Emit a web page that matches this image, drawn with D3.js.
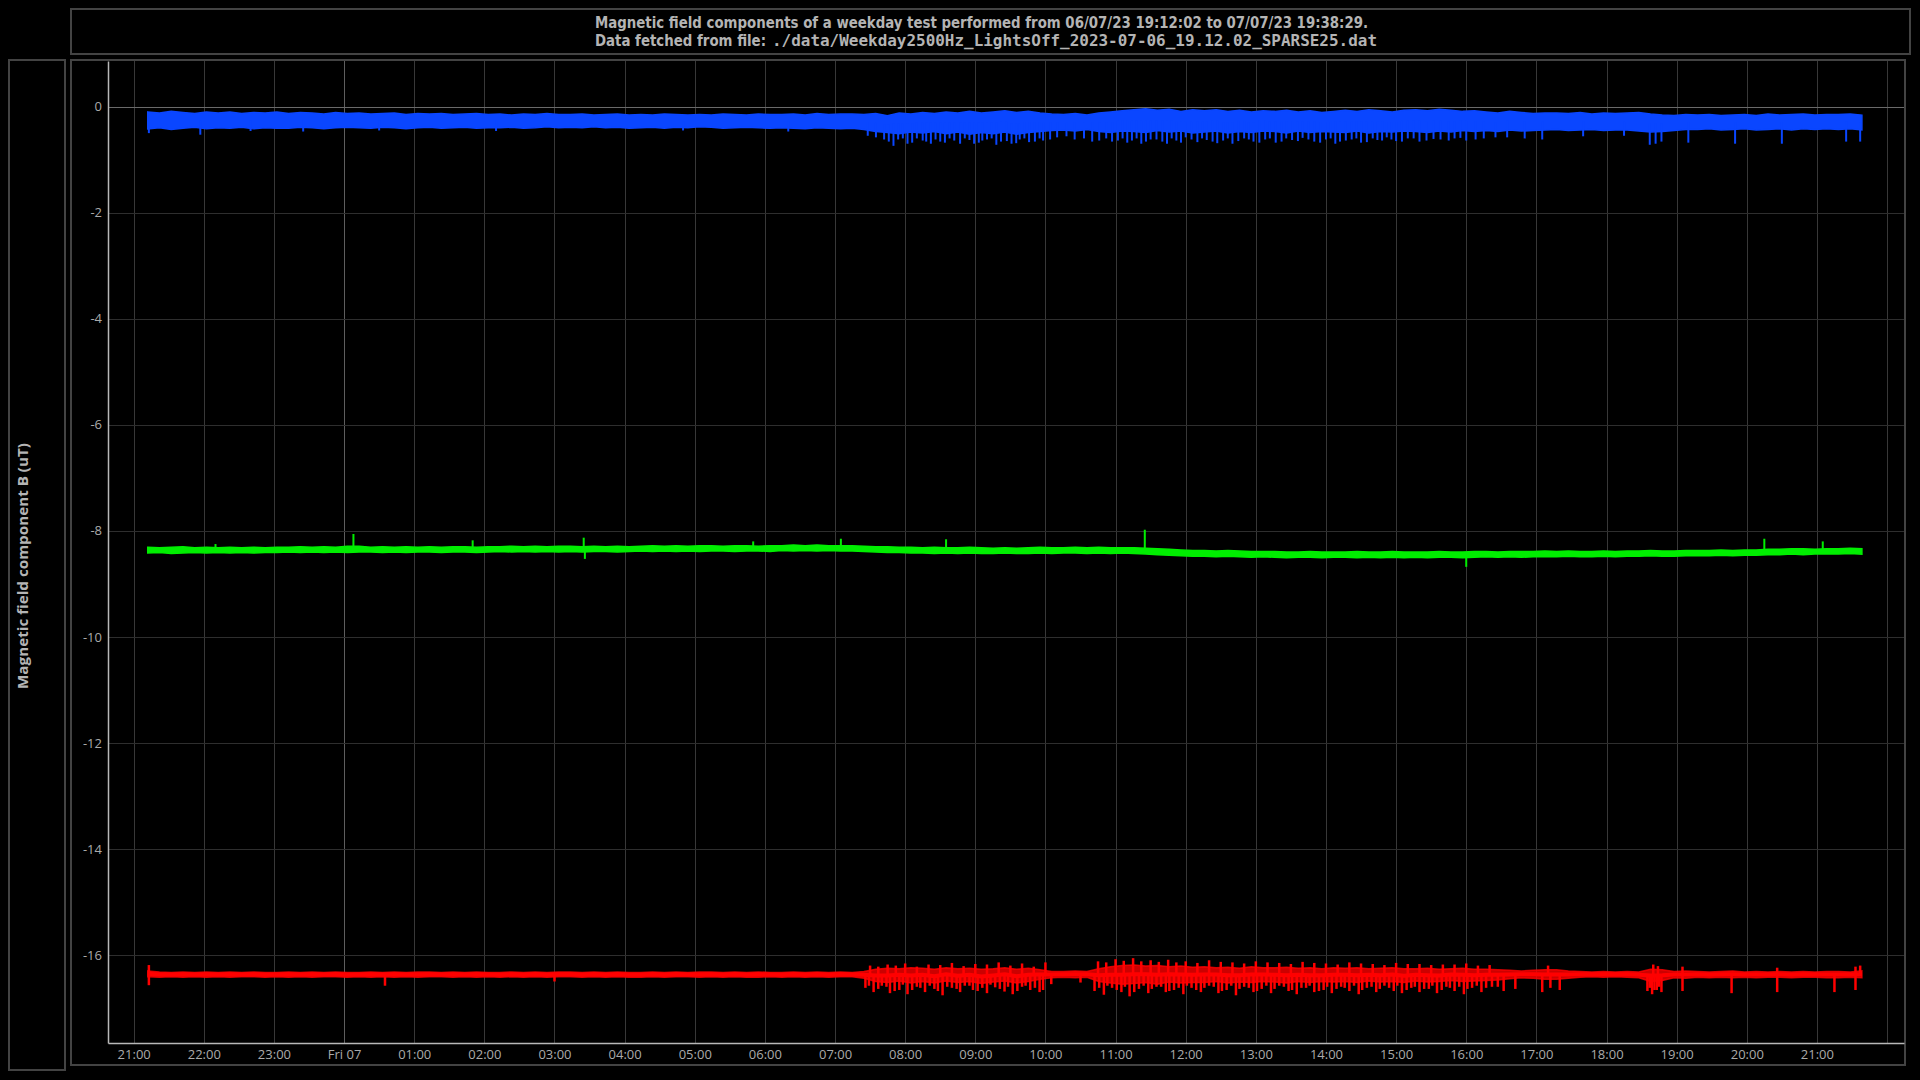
<!DOCTYPE html>
<html><head><meta charset="utf-8">
<script src="https://cdn.jsdelivr.net/npm/d3@7"></script>
<style>html,body{margin:0;padding:0;background:#000;overflow:hidden}</style>
</head><body>
<svg id="c" width="1920" height="1080"></svg>
<script>
// ---------------- DATA ----------------
const titleLine1 = "Magnetic field components of a weekday test performed from 06/07/23 19:12:02 to 07/07/23 19:38:29.";
const titleLine2a = "Data fetched from file:";
const titleLine2b = "./data/Weekday2500Hz_LightsOff_2023-07-06_19.12.02_SPARSE25.dat";
const yLabel = "Magnetic field component B (uT)";
const yTicks = [0, -2, -4, -6, -8, -10, -12, -14, -16];
const xDomain = ["2023-07-06T20:38:02Z", "2023-07-07T22:14:30Z"];
const yDomain = [-17.66, 0.86];
// sampling grid (displayed local time): first and last sample
const sampleStart = "2023-07-06T21:12:02Z";
const sampleEnd = "2023-07-07T21:38:29Z";

// envelope of each component, one value per ~10 min
const blueHi = [
-0.10,-0.12,-0.09,-0.11,-0.13,-0.10, -0.12,-0.10,-0.13,-0.11,-0.12,-0.10,
-0.13,-0.11,-0.12,-0.14,-0.11,-0.13, -0.12,-0.14,-0.13,-0.12,-0.15,-0.13,
-0.14,-0.13,-0.15,-0.14,-0.13,-0.15, -0.14,-0.16,-0.14,-0.15,-0.13,-0.15,
-0.15,-0.14,-0.16,-0.15,-0.14,-0.16, -0.15,-0.16,-0.14,-0.15,-0.16,-0.15,
-0.16,-0.14,-0.15,-0.16,-0.14,-0.15, -0.15,-0.14,-0.16,-0.13,-0.15,-0.14,
-0.14,-0.15,-0.13,-0.17,-0.12,-0.14, -0.11,-0.13,-0.10,-0.12,-0.09,-0.12,
-0.10,-0.08,-0.11,-0.09,-0.12,-0.14, -0.15,-0.13,-0.16,-0.12,-0.10,-0.08,
-0.06,-0.04,-0.07,-0.05,-0.09,-0.06, -0.08,-0.06,-0.09,-0.07,-0.10,-0.08,
-0.09,-0.07,-0.10,-0.08,-0.11,-0.09, -0.07,-0.09,-0.06,-0.08,-0.10,-0.07,
-0.06,-0.08,-0.05,-0.07,-0.09,-0.08, -0.10,-0.12,-0.09,-0.11,-0.13,-0.12,
-0.12,-0.13,-0.11,-0.14,-0.12,-0.13, -0.12,-0.11,-0.14,-0.16,-0.17,-0.15,
-0.16,-0.15,-0.17,-0.16,-0.15,-0.17, -0.14,-0.16,-0.15,-0.14,-0.16,-0.15,
-0.15,-0.14,-0.16];
const blueLo = [
-0.42,-0.40,-0.43,-0.41,-0.39,-0.42, -0.40,-0.41,-0.39,-0.42,-0.40,-0.41,
-0.41,-0.39,-0.40,-0.42,-0.40,-0.39, -0.40,-0.41,-0.39,-0.40,-0.42,-0.40,
-0.39,-0.41,-0.40,-0.39,-0.41,-0.40, -0.40,-0.39,-0.41,-0.40,-0.38,-0.40,
-0.39,-0.40,-0.38,-0.40,-0.39,-0.41, -0.40,-0.39,-0.41,-0.39,-0.40,-0.38,
-0.39,-0.41,-0.40,-0.39,-0.40,-0.41, -0.40,-0.41,-0.42,-0.40,-0.41,-0.42,
-0.41,-0.43,-0.47,-0.49,-0.51,-0.48, -0.50,-0.47,-0.51,-0.48,-0.52,-0.49,
-0.51,-0.48,-0.52,-0.49,-0.47,-0.45, -0.44,-0.46,-0.43,-0.47,-0.49,-0.46,
-0.47,-0.49,-0.45,-0.48,-0.46,-0.50, -0.48,-0.46,-0.50,-0.47,-0.49,-0.46,
-0.47,-0.50,-0.46,-0.49,-0.47,-0.48, -0.49,-0.46,-0.50,-0.47,-0.48,-0.46,
-0.47,-0.49,-0.46,-0.48,-0.45,-0.47, -0.45,-0.47,-0.44,-0.46,-0.45,-0.44,
-0.43,-0.45,-0.44,-0.43,-0.45,-0.44, -0.44,-0.46,-0.48,-0.47,-0.45,-0.43,
-0.43,-0.42,-0.44,-0.43,-0.42,-0.44, -0.43,-0.42,-0.44,-0.42,-0.43,-0.42,
-0.43,-0.42,-0.44];
const greenHi = [
-8.31,-8.32,-8.31,-8.30,-8.32,-8.31, -8.32,-8.31,-8.32,-8.31,-8.32,-8.31,
-8.31,-8.30,-8.31,-8.30,-8.31,-8.29, -8.29,-8.31,-8.30,-8.31,-8.30,-8.31,
-8.30,-8.31,-8.30,-8.30,-8.31,-8.30, -8.30,-8.29,-8.30,-8.29,-8.30,-8.29,
-8.29,-8.30,-8.29,-8.30,-8.29,-8.30, -8.29,-8.28,-8.29,-8.28,-8.29,-8.28,
-8.28,-8.29,-8.28,-8.28,-8.29,-8.28, -8.28,-8.27,-8.28,-8.27,-8.28,-8.28,
-8.28,-8.29,-8.30,-8.30,-8.31,-8.31, -8.32,-8.31,-8.32,-8.32,-8.31,-8.32,
-8.33,-8.32,-8.33,-8.32,-8.31,-8.32, -8.32,-8.31,-8.32,-8.31,-8.32,-8.32,
-8.32,-8.33,-8.34,-8.35,-8.36,-8.37, -8.37,-8.38,-8.37,-8.38,-8.39,-8.39,
-8.39,-8.40,-8.40,-8.39,-8.40,-8.40, -8.40,-8.39,-8.40,-8.40,-8.39,-8.40,
-8.40,-8.40,-8.39,-8.40,-8.40,-8.39, -8.39,-8.40,-8.39,-8.39,-8.39,-8.38,
-8.39,-8.38,-8.39,-8.39,-8.38,-8.39, -8.38,-8.38,-8.37,-8.38,-8.38,-8.37,
-8.37,-8.37,-8.36,-8.37,-8.36,-8.36, -8.35,-8.35,-8.34,-8.34,-8.35,-8.34,
-8.34,-8.33,-8.34];
const greenLo = [
-8.42,-8.41,-8.43,-8.42,-8.41,-8.42, -8.41,-8.42,-8.41,-8.42,-8.41,-8.41,
-8.40,-8.41,-8.40,-8.41,-8.40,-8.41, -8.40,-8.40,-8.41,-8.40,-8.41,-8.40,
-8.40,-8.41,-8.40,-8.40,-8.41,-8.40, -8.39,-8.40,-8.39,-8.40,-8.39,-8.40,
-8.39,-8.40,-8.39,-8.39,-8.40,-8.39, -8.38,-8.39,-8.38,-8.39,-8.38,-8.39,
-8.38,-8.38,-8.39,-8.38,-8.38,-8.39, -8.37,-8.38,-8.37,-8.38,-8.37,-8.38,
-8.38,-8.39,-8.40,-8.41,-8.41,-8.42, -8.42,-8.43,-8.42,-8.43,-8.42,-8.43,
-8.43,-8.42,-8.43,-8.43,-8.42,-8.43, -8.42,-8.42,-8.43,-8.42,-8.43,-8.42,
-8.43,-8.44,-8.45,-8.46,-8.47,-8.48, -8.48,-8.49,-8.48,-8.49,-8.50,-8.49,
-8.50,-8.51,-8.50,-8.50,-8.51,-8.50, -8.50,-8.51,-8.50,-8.51,-8.50,-8.51,
-8.50,-8.51,-8.50,-8.50,-8.51,-8.50, -8.49,-8.50,-8.49,-8.50,-8.49,-8.49,
-8.49,-8.48,-8.49,-8.49,-8.48,-8.49, -8.48,-8.48,-8.47,-8.48,-8.48,-8.47,
-8.47,-8.47,-8.46,-8.47,-8.46,-8.46, -8.45,-8.45,-8.44,-8.45,-8.44,-8.44,
-8.44,-8.43,-8.44];
const redHi = [
-16.30,-16.32,-16.33,-16.32,-16.33,-16.32, -16.33,-16.32,-16.33,-16.32,-16.33,-16.33,
-16.32,-16.33,-16.32,-16.33,-16.32,-16.33, -16.33,-16.32,-16.33,-16.32,-16.33,-16.32,
-16.32,-16.33,-16.32,-16.33,-16.32,-16.33, -16.33,-16.32,-16.33,-16.32,-16.33,-16.32,
-16.32,-16.33,-16.32,-16.33,-16.32,-16.33, -16.33,-16.32,-16.33,-16.32,-16.33,-16.32,
-16.32,-16.33,-16.32,-16.33,-16.32,-16.33, -16.33,-16.32,-16.33,-16.32,-16.33,-16.32,
-16.33,-16.31,-16.27,-16.25,-16.26,-16.24, -16.25,-16.27,-16.24,-16.26,-16.25,-16.27,
-16.26,-16.24,-16.27,-16.25,-16.28,-16.31, -16.31,-16.30,-16.31,-16.26,-16.22,-16.20,
-16.19,-16.21,-16.20,-16.22,-16.21,-16.23, -16.22,-16.24,-16.23,-16.25,-16.22,-16.24,
-16.24,-16.23,-16.25,-16.24,-16.26,-16.24, -16.25,-16.24,-16.26,-16.25,-16.24,-16.26,
-16.26,-16.25,-16.27,-16.26,-16.25,-16.27, -16.27,-16.28,-16.29,-16.30,-16.29,-16.28,
-16.28,-16.30,-16.31,-16.32,-16.31,-16.32, -16.31,-16.32,-16.27,-16.28,-16.31,-16.30,
-16.31,-16.32,-16.31,-16.30,-16.32,-16.31, -16.32,-16.31,-16.32,-16.31,-16.32,-16.31,
-16.31,-16.32,-16.30];
const redLo = [
-16.41,-16.42,-16.41,-16.42,-16.41,-16.42, -16.41,-16.42,-16.41,-16.41,-16.42,-16.41,
-16.42,-16.41,-16.42,-16.41,-16.41,-16.42, -16.41,-16.42,-16.41,-16.42,-16.41,-16.42,
-16.41,-16.41,-16.42,-16.41,-16.42,-16.41, -16.42,-16.41,-16.42,-16.41,-16.42,-16.41,
-16.41,-16.42,-16.41,-16.42,-16.41,-16.42, -16.42,-16.41,-16.42,-16.41,-16.41,-16.42,
-16.41,-16.42,-16.41,-16.42,-16.42,-16.41, -16.42,-16.41,-16.42,-16.41,-16.42,-16.41,
-16.41,-16.44,-16.50,-16.52,-16.49,-16.53, -16.50,-16.53,-16.49,-16.52,-16.50,-16.54,
-16.51,-16.49,-16.53,-16.50,-16.46,-16.43, -16.42,-16.43,-16.42,-16.50,-16.53,-16.55,
-16.54,-16.52,-16.55,-16.51,-16.53,-16.52, -16.52,-16.50,-16.53,-16.51,-16.52,-16.50,
-16.51,-16.53,-16.50,-16.52,-16.50,-16.51, -16.50,-16.52,-16.49,-16.51,-16.50,-16.52,
-16.49,-16.51,-16.50,-16.48,-16.50,-16.49, -16.48,-16.47,-16.45,-16.43,-16.44,-16.46,
-16.46,-16.44,-16.42,-16.41,-16.42,-16.41, -16.42,-16.43,-16.50,-16.48,-16.43,-16.44,
-16.42,-16.43,-16.42,-16.43,-16.42,-16.43, -16.42,-16.42,-16.43,-16.42,-16.42,-16.43,
-16.43,-16.42,-16.43];

// isolated excursions ("DD HH:MM", value)
const blueSpikeTimes = ["06 21:13","06 21:57","06 22:40","06 23:25","07 00:30","07 02:10","07 04:50","07 06:20",
"07 07:28","07 07:42","07 07:50","07 07:58","07 08:06","07 08:15","07 08:22","07 08:30","07 08:38","07 08:47","07 08:55",
"07 09:03","07 09:10","07 09:18","07 09:27","07 09:35","07 09:42","07 09:51","07 09:58","07 10:10","07 10:25","07 10:40",
"07 10:52","07 11:02","07 11:10","07 11:18","07 11:26","07 11:35","07 11:44","07 11:52","07 12:00","07 12:10","07 12:18",
"07 12:27","07 12:36","07 12:45","07 12:54","07 13:03","07 13:12","07 13:22","07 13:31","07 13:40","07 13:50","07 14:00",
"07 14:08","07 14:17","07 14:26","07 14:35","07 14:44","07 14:52","07 15:00","07 15:10","07 15:20","07 15:32","07 15:45",
"07 15:55","07 16:08","07 16:25","07 16:50","07 17:05","07 17:40","07 18:15","07 18:37","07 18:42","07 18:47","07 19:10",
"07 19:50","07 20:30","07 21:25","07 21:37"];
const blueSpikeValues = [-0.50,-0.53,-0.46,-0.47,-0.45,-0.46,-0.45,-0.47,
-0.55,-0.62,-0.74,-0.60,-0.68,-0.64,-0.70,-0.66,-0.60,-0.70,-0.63,
-0.68,-0.62,-0.72,-0.65,-0.69,-0.60,-0.66,-0.64,-0.58,-0.62,-0.66,
-0.60,-0.64,-0.68,-0.60,-0.66,-0.62,-0.70,-0.64,-0.58,-0.67,-0.63,
-0.69,-0.60,-0.65,-0.62,-0.68,-0.60,-0.66,-0.63,-0.59,-0.66,-0.62,
-0.70,-0.64,-0.60,-0.67,-0.63,-0.58,-0.65,-0.60,-0.66,-0.61,-0.64,
-0.59,-0.62,-0.58,-0.60,-0.62,-0.56,-0.55,-0.72,-0.70,-0.66,-0.68,
-0.70,-0.70,-0.66,-0.66];
const blueSpike2Times = ["07 07:35","07 07:46","07 07:54","07 08:02","07 08:10","07 08:18","07 08:26","07 08:34","07 08:42",
"07 08:51","07 08:59","07 09:06","07 09:14","07 09:22","07 09:31","07 09:38","07 09:46","07 09:55","07 10:04","07 10:18",
"07 10:33","07 10:46","07 10:57","07 11:06","07 11:14","07 11:22","07 11:30","07 11:40","07 11:48","07 11:56","07 12:05",
"07 12:14","07 12:23","07 12:32","07 12:40","07 12:50","07 12:58","07 13:08","07 13:17","07 13:26","07 13:36","07 13:45",
"07 13:55","07 14:04","07 14:12","07 14:22","07 14:30","07 14:40","07 14:48","07 14:56","07 15:05","07 15:15","07 15:26",
"07 15:38","07 15:50","07 16:00","07 16:15","07 16:35"];
const blueSpike2Values = [-0.58,-0.66,-0.62,-0.70,-0.60,-0.66,-0.62,-0.68,-0.64,
-0.60,-0.70,-0.64,-0.60,-0.66,-0.70,-0.62,-0.67,-0.60,-0.62,-0.56,
-0.60,-0.64,-0.66,-0.60,-0.64,-0.70,-0.62,-0.66,-0.60,-0.68,-0.62,
-0.60,-0.66,-0.64,-0.70,-0.60,-0.66,-0.62,-0.68,-0.60,-0.65,-0.62,
-0.68,-0.60,-0.66,-0.62,-0.68,-0.60,-0.64,-0.62,-0.66,-0.60,-0.64,
-0.62,-0.60,-0.64,-0.60,-0.58];
const greenSpikeTimes = ["06 22:10","07 00:08","07 01:50","07 03:25","07 03:26","07 05:50","07 07:05","07 08:35","07 11:25","07 16:00","07 20:15","07 21:05"];
const greenSpikeValues = [-8.25,-8.06,-8.18,-8.13,-8.53,-8.20,-8.15,-8.16,-7.98,-8.68,-8.15,-8.20];
const redDownTimes = ["06 21:13","07 00:35","07 03:00",
"07 07:26","07 07:33","07 07:40","07 07:47","07 07:55","07 08:02","07 08:10","07 08:17","07 08:25","07 08:32","07 08:40",
"07 08:47","07 08:55","07 09:02","07 09:10","07 09:17","07 09:25","07 09:32","07 09:40","07 09:47","07 09:55","07 10:05",
"07 10:30","07 10:42","07 10:50","07 10:57","07 11:05","07 11:12","07 11:20","07 11:28","07 11:35","07 11:43","07 11:50",
"07 11:58","07 12:05","07 12:13","07 12:20","07 12:28","07 12:35","07 12:43","07 12:50","07 12:58","07 13:05","07 13:13",
"07 13:20","07 13:28","07 13:35","07 13:43","07 13:50","07 13:58","07 14:05","07 14:13","07 14:20","07 14:28","07 14:35",
"07 14:43","07 14:50","07 14:58","07 15:05","07 15:13","07 15:20","07 15:28","07 15:35","07 15:43","07 15:50","07 15:58",
"07 16:05","07 16:13","07 16:22","07 16:32","07 16:42","07 17:05","07 17:12","07 17:20","07 18:35","07 18:39","07 18:43",
"07 18:47","07 19:05","07 19:47","07 20:26","07 21:15","07 21:33"];
const redDownValues = [-16.57,-16.58,-16.50,
-16.62,-16.70,-16.58,-16.72,-16.66,-16.74,-16.60,-16.70,-16.64,-16.76,-16.62,
-16.70,-16.58,-16.68,-16.72,-16.61,-16.69,-16.74,-16.60,-16.66,-16.70,-16.55,
-16.52,-16.68,-16.75,-16.62,-16.70,-16.78,-16.64,-16.72,-16.60,-16.70,-16.66,
-16.74,-16.62,-16.70,-16.58,-16.72,-16.66,-16.76,-16.60,-16.70,-16.64,-16.72,
-16.58,-16.68,-16.74,-16.62,-16.70,-16.66,-16.72,-16.60,-16.68,-16.74,-16.62,
-16.70,-16.58,-16.68,-16.72,-16.62,-16.70,-16.64,-16.72,-16.60,-16.68,-16.74,
-16.62,-16.70,-16.60,-16.68,-16.64,-16.70,-16.62,-16.66,-16.68,-16.74,-16.66,
-16.70,-16.68,-16.72,-16.70,-16.70,-16.66];
const redDown2Times = ["07 07:29","07 07:37","07 07:44","07 07:51","07 07:58","07 08:06","07 08:13","07 08:21","07 08:28",
"07 08:36","07 08:44","07 08:51","07 08:58","07 09:06","07 09:13","07 09:21","07 09:28","07 09:36","07 09:43","07 09:51",
"07 09:58","07 10:46","07 10:53","07 11:01","07 11:08","07 11:16","07 11:24","07 11:31","07 11:39","07 11:46","07 11:54",
"07 12:01","07 12:09","07 12:16","07 12:24","07 12:31","07 12:39","07 12:46","07 12:54","07 13:01","07 13:09","07 13:16",
"07 13:24","07 13:31","07 13:39","07 13:46","07 13:54","07 14:01","07 14:09","07 14:16","07 14:24","07 14:31","07 14:39",
"07 14:46","07 14:54","07 15:01","07 15:09","07 15:16","07 15:24","07 15:31","07 15:39","07 15:46","07 15:54","07 16:01",
"07 16:09","07 16:17","07 16:27","07 18:37","07 18:41","07 18:45"];
const redDown2Values = [-16.58,-16.64,-16.60,-16.68,-16.56,-16.66,-16.62,-16.58,-16.68,
-16.60,-16.64,-16.58,-16.66,-16.62,-16.56,-16.64,-16.60,-16.68,-16.58,-16.62,
-16.66,-16.62,-16.58,-16.66,-16.60,-16.70,-16.58,-16.64,-16.60,-16.68,-16.62,
-16.58,-16.66,-16.62,-16.60,-16.68,-16.58,-16.64,-16.62,-16.68,-16.58,-16.64,
-16.60,-16.66,-16.62,-16.58,-16.68,-16.60,-16.64,-16.62,-16.58,-16.66,-16.60,
-16.64,-16.62,-16.58,-16.66,-16.60,-16.64,-16.58,-16.66,-16.62,-16.60,-16.64,
-16.58,-16.62,-16.60,-16.62,-16.66,-16.60];
const redUpTimes = ["06 21:13","07 07:30","07 07:45","07 08:00","07 08:20","07 08:40","07 09:00","07 09:20","07 09:40",
"07 10:00","07 10:45","07 11:00","07 11:15","07 11:30","07 11:45","07 12:00","07 12:20","07 12:40","07 13:00","07 13:20",
"07 13:40","07 14:00","07 14:20","07 14:40","07 15:00","07 15:20","07 15:40","07 16:00","07 16:20","07 17:10","07 18:40",
"07 19:05","07 20:26","07 21:33","07 21:37",
"07 07:37","07 07:52","07 08:10","07 08:30","07 08:50","07 09:10","07 09:30","07 09:50","07 10:52","07 11:07","07 11:22",
"07 11:37","07 11:52","07 12:10","07 12:30","07 12:50","07 13:10","07 13:30","07 13:50","07 14:10","07 14:30","07 14:50",
"07 15:10","07 15:30","07 15:50","07 16:10","07 18:44"];
const redUpValues = [-16.19,-16.20,-16.18,-16.16,-16.18,-16.15,-16.17,-16.14,-16.16,
-16.14,-16.12,-16.08,-16.06,-16.10,-16.09,-16.12,-16.10,-16.14,-16.12,-16.15,
-16.13,-16.16,-16.14,-16.17,-16.15,-16.17,-16.18,-16.16,-16.19,-16.20,-16.18,
-16.22,-16.24,-16.22,-16.20,
-16.22,-16.20,-16.22,-16.19,-16.21,-16.18,-16.20,-16.22,-16.14,-16.11,-16.12,
-16.13,-16.14,-16.15,-16.13,-16.16,-16.14,-16.17,-16.15,-16.18,-16.16,-16.19,
-16.17,-16.19,-16.18,-16.20,-16.21];

const seriesColors = {x: "#0a46ff", y: "#00ee00", z: "#ff0000"};

// ---------------- DRAW ----------------
const svg = d3.select("#c");
svg.append("rect").attr("width",1920).attr("height",1080).attr("fill","#000");

const L = 108, R = 1904, T = 61, B = 1043;
const x = d3.scaleUtc().domain(xDomain.map(s => new Date(s))).range([L, R]);
const y = d3.scaleLinear().domain(yDomain).range([B, T]);
const parseS = d3.utcParse("%Y-%m-%d %H:%M");
const pt = s => parseS("2023-07-" + s);

// frames
const frame = "#434343";
svg.append("rect").attr("x",71).attr("y",9).attr("width",1839).attr("height",45)
  .attr("fill","none").attr("stroke",frame).attr("stroke-width",2);
svg.append("rect").attr("x",9).attr("y",60).attr("width",56).attr("height",1010)
  .attr("fill","none").attr("stroke",frame).attr("stroke-width",2);
svg.append("rect").attr("x",71).attr("y",60).attr("width",1834).attr("height",1005)
  .attr("fill","none").attr("stroke",frame).attr("stroke-width",2);

// title
const tcol = "#b4b4b4";
const sansT = "'DejaVu Sans Condensed', 'DejaVu Sans', sans-serif";
svg.append("text").attr("x",595).attr("y",28).text(titleLine1)
  .attr("fill",tcol).attr("font-family",sansT).attr("font-weight","bold")
  .attr("font-size",15).attr("textLength",773).attr("lengthAdjust","spacingAndGlyphs");
svg.append("text").attr("x",595).attr("y",45.5).text(titleLine2a)
  .attr("fill",tcol).attr("font-family",sansT).attr("font-weight","bold")
  .attr("font-size",15).attr("textLength",171).attr("lengthAdjust","spacingAndGlyphs");
svg.append("text").attr("x",772).attr("y",45.5).text(titleLine2b)
  .attr("fill",tcol).attr("font-family","'DejaVu Sans Mono', monospace").attr("font-weight","bold")
  .attr("font-size",15).attr("textLength",605).attr("lengthAdjust","spacingAndGlyphs");

// y label
svg.append("text").attr("transform","translate(28,566) rotate(-90)").attr("text-anchor","middle")
  .text(yLabel).attr("fill",tcol).attr("font-family","'Open Sans', 'Noto Sans', sans-serif")
  .attr("font-weight","bold").attr("font-size",15).attr("textLength",246).attr("lengthAdjust","spacingAndGlyphs");

// grid
const g = svg.append("g");
const hours = x.ticks(d3.utcHour.every(1));
g.selectAll("line.v").data(hours).join("line")
  .attr("x1",d=>Math.round(x(d))+0.5).attr("x2",d=>Math.round(x(d))+0.5).attr("y1",T).attr("y2",B)
  .attr("stroke",d=>d.getUTCHours()===0 ? "#5e5e5e" : "#383838").attr("stroke-width",1);
g.selectAll("line.h").data(yTicks).join("line")
  .attr("x1",L).attr("x2",R).attr("y1",d=>Math.round(y(d))+0.5).attr("y2",d=>Math.round(y(d))+0.5)
  .attr("stroke",d=>d===0 ? "#6a6a6a" : "#2e2e2e").attr("stroke-width",1);

// axes
const xAxis = d3.axisBottom(x).tickValues(hours.filter(d => x(d) < R - 25)).tickSize(0).tickPadding(6.5)
  .tickFormat(d => d.getUTCHours()===0 ? d3.utcFormat("%a %d")(d) : d3.utcFormat("%H:%M")(d));
const ax = svg.append("g").attr("transform",`translate(0,${B})`).call(xAxis);
ax.select(".domain").attr("stroke","#b8b8b8").attr("stroke-width",1.5);
ax.selectAll("text").attr("fill","#aaaaaa").attr("font-size",13).attr("font-family","'Open Sans', sans-serif");
const yAxis = d3.axisLeft(y).tickValues(yTicks).tickSize(0).tickPadding(6).tickFormat(d => String(d));
const ay = svg.append("g").attr("transform",`translate(${L},0)`).call(yAxis);
ay.select(".domain").attr("stroke","#b8b8b8").attr("stroke-width",1.5);
ay.selectAll("text").attr("fill","#aaaaaa").attr("font-size",13).attr("font-family","'Open Sans', sans-serif");

// series
svg.append("clipPath").attr("id","clip").append("rect").attr("x",L+1).attr("y",T).attr("width",R-L-1).attr("height",B-T);
const plot = svg.append("g").attr("clip-path","url(#clip)");
const t0 = new Date(sampleStart), t1 = new Date(sampleEnd);
function drawSeries(hi, lo, color, spikeSets, envOpacity, coreWidth, spikeWidth) {
  const n = hi.length, step = (t1 - t0) / (n - 1);
  const rows = hi.map((h, i) => ({t: new Date(+t0 + i * step), hi: h, lo: lo[i]}));
  const area = d3.area().x(d => x(d.t)).y0(d => y(d.lo)).y1(d => y(d.hi));
  plot.append("path").attr("d", area(rows)).attr("fill", color).attr("fill-opacity", envOpacity)
    .attr("stroke", color).attr("stroke-opacity", envOpacity).attr("stroke-width", 1.5);
  if (coreWidth) {
    const line = d3.line().x(d => x(d.t)).y(d => y((d.hi + d.lo) / 2));
    plot.append("path").attr("d", line(rows)).attr("fill", "none").attr("stroke", color).attr("stroke-width", coreWidth);
  }
  const mid = t => { const i = Math.max(0, Math.min(n - 1, Math.round((t - t0) / step))); return (rows[i].hi + rows[i].lo) / 2; };
  spikeSets.forEach(([times, vals]) => {
    const sp = times.map((s, i) => ({t: pt(s), v: vals[i]}));
    plot.selectAll(null).data(sp).join("line")
      .attr("x1", d => x(d.t)).attr("x2", d => x(d.t))
      .attr("y1", d => y(mid(d.t))).attr("y2", d => y(d.v))
      .attr("stroke", color).attr("stroke-width", spikeWidth);
  });
}
drawSeries(blueHi, blueLo, seriesColors.x, [[blueSpikeTimes, blueSpikeValues], [blueSpike2Times, blueSpike2Values]], 1, 0, 2);
drawSeries(greenHi, greenLo, seriesColors.y, [[greenSpikeTimes, greenSpikeValues]], 1, 0, 2);
drawSeries(redHi, redLo, seriesColors.z, [[redDownTimes, redDownValues], [redDown2Times, redDown2Values], [redUpTimes, redUpValues]], 0.8, 4, 2.5);
</script>
</body></html>
